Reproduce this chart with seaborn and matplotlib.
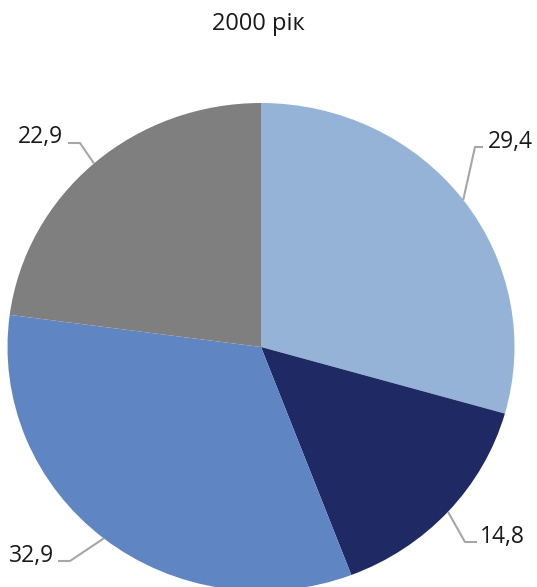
import numpy as np
import matplotlib
matplotlib.use('Agg')
import matplotlib.pyplot as plt
import seaborn as sns

title = '2000 рік'
values = [29.4, 14.8, 32.9, 22.9]
labels = ['29,4', '14,8', '32,9', '22,9']
colors = ['#95B3D7', '#1F2A64', '#5F86C2', '#7F7F7F']

sns.set_theme(style='white')
plt.rcParams['font.family'] = ['Open Sans', 'DejaVu Sans']

W, H = 537, 587
cx, cy = 261, 347        # pie centre in pixels
rx, ry = 253.5, 244      # radii in pixels (the original is slightly squashed)

fig = plt.figure(figsize=(W / 100, H / 100), dpi=100)
ax = fig.add_axes([0, 0, 1, 1])
wedges, _ = ax.pie(values, colors=sns.color_palette(colors), startangle=90,
                   counterclock=False, radius=1, center=(0, 0),
                   wedgeprops=dict(linewidth=0))
ax.set_aspect('auto')
ax.set_xlim(-cx / rx, (W - cx) / rx)
ax.set_ylim(-(H - cy) / ry, cy / ry)
ax.axis('off')

# leader lines: elbow point, end of horizontal stub, text anchor (pixels)
label_pos = [
    ((475, 147), (483, 147), (488, 148)),
    ((465, 542), (477, 542), (480, 543)),
    ((70, 561), (58, 561), (54, 562)),
    ((80, 143), (68, 143), (63, 143)),
]

def px2d(x, y):
    return (x - cx) / rx, (cy - y) / ry

for w, lab, (elbow, stub, tpos) in zip(wedges, labels, label_pos):
    ang = np.deg2rad((w.theta1 + w.theta2) / 2)
    ex, ey = np.cos(ang), np.sin(ang)
    bx, by = px2d(*elbow)
    sx, sy = px2d(*stub)
    tx, ty = px2d(*tpos)
    ax.plot([ex, bx, sx], [ey, by, sy], color='#A6A6A6', lw=1.5,
            solid_capstyle='butt')
    ha = 'left' if tx > bx else 'right'
    ax.text(tx, ty, lab, ha=ha, va='baseline', fontsize=16.5, color='#1a1a1a')

fig.text(258 / W, 1 - 30 / H, title, ha='center', va='baseline',
         fontsize=17, color='#1a1a1a')

plt.savefig('out.png', dpi=100)
